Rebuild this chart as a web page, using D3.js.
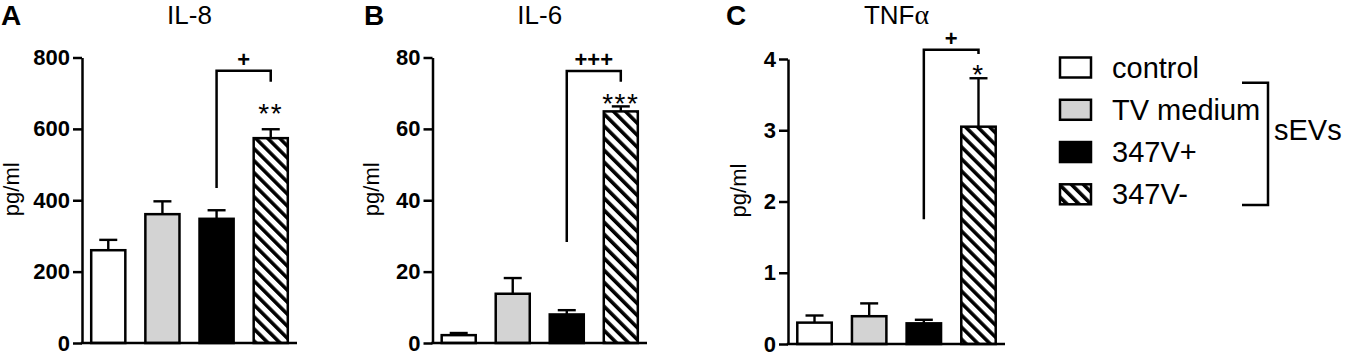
<!DOCTYPE html>
<html>
<head>
<meta charset="utf-8">
<script src="https://cdn.jsdelivr.net/npm/d3@7"></script>
<style>
  body { margin: 0; background: #fff; }
  svg { display: block; font-family: "Liberation Sans", Arial, sans-serif; }
</style>
</head>
<body>
<svg id="chart" width="1345" height="355"></svg>
<script>
// groups (same for every panel)
const groups = ["control", "TV medium", "347V+", "347V-"];

// IL-8 (pg/ml)
const il8Mean = [260, 361, 348, 574];
const il8Sem = [29, 36, 24, 25];
const il8Ticks = [0, 200, 400, 600, 800];

// IL-6 (pg/ml)
const il6Mean = [2.2, 13.8, 8.0, 64.9];
const il6Sem = [0.6, 4.4, 1.2, 1.4];
const il6Ticks = [0, 20, 40, 60, 80];

// TNFa (pg/ml)
const tnfMean = [0.30, 0.39, 0.29, 3.05];
const tnfSem = [0.10, 0.18, 0.05, 0.68];
const tnfTicks = [0, 1, 2, 3, 4];

// significance brackets 347V+ vs 347V- : [left foot, top, right foot]
const il8Bracket = [434, 763, 732];
const il6Bracket = [28.3, 76.2, 73.2];
const tnfBracket = [1.75, 4.13, 4.07];
const bracketLabels = ["+", "+++", "+"];
const starLabels = ["**", "***", "*"];
const starValues = [655, 68.3, 3.84];

const fills = ["#ffffff", "#d3d3d3", "#000000", "url(#hatch)"];

const svg = d3.select("#chart");

// hatch pattern for 347V-  ( \\\ stripes )
const defs = svg.append("defs");
const pat = defs
  .append("pattern")
  .attr("id", "hatch")
  .attr("patternUnits", "userSpaceOnUse")
  .attr("width", 8.5)
  .attr("height", 8.5)
  .attr("patternTransform", "rotate(45)");
pat.append("rect").attr("width", 8.5).attr("height", 8.5).attr("fill", "#fff");
pat
  .append("line")
  .attr("x1", 0)
  .attr("y1", 2)
  .attr("x2", 8.5)
  .attr("y2", 2)
  .attr("stroke", "#000")
  .attr("stroke-width", 3.6);

// panel layout
const panels = [
  { letter: "A", title: "IL-8", mean: il8Mean, sem: il8Sem, ticks: il8Ticks,
    bracket: il8Bracket, x0: 82, x1: 297, y0: 343, y1: 57.5, letterX: 1, labelX: 13.5 },
  { letter: "B", title: "IL-6", mean: il6Mean, sem: il6Sem, ticks: il6Ticks,
    bracket: il6Bracket, x0: 432.5, x1: 647, y0: 343, y1: 57.5, letterX: 364, labelX: 373 },
  { letter: "C", title: "TNF", mean: tnfMean, sem: tnfSem, ticks: tnfTicks,
    bracket: tnfBracket, x0: 788, x1: 1005, y0: 344, y1: 59, letterX: 726, labelX: 740.5 },
];

panels.forEach((p, pi) => {
  const g = svg.append("g");

  const x = d3
    .scaleBand()
    .domain(groups)
    .range([p.x0, p.x1])
    .paddingInner(0.37)
    .paddingOuter(0.17);

  const y = d3
    .scaleLinear()
    .domain([p.ticks[0], p.ticks[p.ticks.length - 1]])
    .range([p.y0, p.y1]);

  // bars
  g.selectAll(".bar")
    .data(groups)
    .join("rect")
    .attr("class", "bar")
    .attr("x", (d) => x(d))
    .attr("width", x.bandwidth())
    .attr("y", (d, i) => y(p.mean[i]))
    .attr("height", (d, i) => y(0) - y(p.mean[i]))
    .attr("fill", (d, i) => fills[i])
    .attr("stroke", "#000")
    .attr("stroke-width", 2.5);

  // error bars (upper only)
  const eb = g
    .selectAll(".err")
    .data(groups)
    .join("g")
    .attr("class", "err")
    .attr("stroke", "#000")
    .attr("stroke-width", 2.4);
  eb.append("line")
    .attr("x1", (d) => x(d) + x.bandwidth() / 2)
    .attr("x2", (d) => x(d) + x.bandwidth() / 2)
    .attr("y1", (d, i) => y(p.mean[i]))
    .attr("y2", (d, i) => y(p.mean[i] + p.sem[i]));
  eb.append("line")
    .attr("x1", (d) => x(d) + x.bandwidth() / 2 - 9)
    .attr("x2", (d) => x(d) + x.bandwidth() / 2 + 9)
    .attr("y1", (d, i) => y(p.mean[i] + p.sem[i]))
    .attr("y2", (d, i) => y(p.mean[i] + p.sem[i]));

  // y axis
  const yAxis = g
    .append("g")
    .attr("transform", `translate(${p.x0},0)`)
    .call(
      d3.axisLeft(y)
        .tickValues(p.ticks)
        .tickFormat(d3.format("~g"))
        .tickSize(9)
        .tickPadding(3)
        .tickSizeOuter(0)
    );
  yAxis.select(".domain").attr("stroke-width", 2.5);
  yAxis.selectAll(".tick line").attr("stroke-width", 2.5);
  yAxis
    .selectAll(".tick text")
    .attr("font-size", 22)
    .attr("font-weight", "bold")
    .attr("fill", "#000")
    .attr("font-family", "Liberation Sans, Arial, sans-serif");

  // x axis line
  g.append("line")
    .attr("x1", p.x0 - 1.2)
    .attr("x2", p.x1)
    .attr("y1", y(0))
    .attr("y2", y(0))
    .attr("stroke", "#000")
    .attr("stroke-width", 2.5);

  // y label
  g.append("text")
    .attr("transform", `translate(${p.labelX + 5.5},${(p.y0 + p.y1) / 2 - 11}) rotate(-90)`)
    .attr("text-anchor", "middle")
    .attr("font-size", 22)
    .text("pg/ml");

  // title + panel letter
  const title = g
    .append("text")
    .attr("x", (p.x0 + p.x1) / 2)
    .attr("y", 24)
    .attr("text-anchor", "middle")
    .attr("font-size", 26)
    .text(p.title);
  if (pi === 2) {
    title
      .append("tspan")
      .attr("font-family", "Liberation Serif, Times New Roman, serif")
      .attr("font-size", 28)
      .text("\u03b1");
  }
  g.append("text")
    .attr("x", p.letterX)
    .attr("y", 25)
    .attr("font-size", 28)
    .attr("font-weight", "bold")
    .text(p.letter);

  // significance bracket
  const xl = x(groups[2]) + x.bandwidth() / 2;
  const xr = x(groups[3]) + x.bandwidth() / 2;
  g.append("path")
    .attr("d", d3.line()([
      [xl, y(p.bracket[0])],
      [xl, y(p.bracket[1])],
      [xr, y(p.bracket[1])],
      [xr, y(p.bracket[2])],
    ]))
    .attr("fill", "none")
    .attr("stroke", "#000")
    .attr("stroke-width", 2.5);
  g.append("text")
    .attr("x", (xl + xr) / 2)
    .attr("y", y(p.bracket[1]) - 4)
    .attr("text-anchor", "middle")
    .attr("font-size", 22)
    .attr("font-weight", "bold")
    .text(bracketLabels[pi]);
  g.append("text")
    .attr("x", xr)
    .attr("y", y(starValues[pi]) + 14)
    .attr("text-anchor", "middle")
    .attr("font-size", 28)
    .attr("letter-spacing", 1.5)
    .text(starLabels[pi]);
});

// legend
const ly = d3.scalePoint().domain(groups).range([67.5, 194.3]);
const legend = svg
  .append("g")
  .selectAll("g")
  .data(groups)
  .join("g")
  .attr("transform", (d) => `translate(1060,${ly(d)})`);
legend
  .append("rect")
  .attr("x", 0)
  .attr("y", -10)
  .attr("width", 31)
  .attr("height", 20)
  .attr("fill", (d, i) => fills[i])
  .attr("stroke", "#000")
  .attr("stroke-width", 2.5);
legend
  .append("text")
  .attr("x", 52)
  .attr("y", 10)
  .attr("font-size", 29)
  .text((d) => d);

// sEVs bracket
svg
  .append("path")
  .attr("d", d3.line()([[1242, 82.7], [1268, 82.7], [1268, 205], [1242, 205]]))
  .attr("fill", "none")
  .attr("stroke", "#000")
  .attr("stroke-width", 2.5);
svg
  .append("text")
  .attr("x", 1274)
  .attr("y", 140)
  .attr("font-size", 29)
  .text("sEVs");
</script>
</body>
</html>
